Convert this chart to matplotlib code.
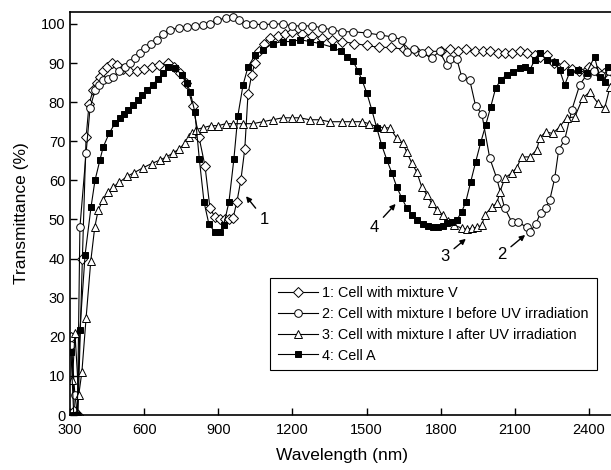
"""
plot.py

Transmittance spectra of the four cells (recreated from a figure).
"""

import matplotlib
matplotlib.use("Agg")
import matplotlib.pyplot as plt

plt.rcParams["font.family"] = ["Liberation Sans", "DejaVu Sans"]

# 1: Cell with mixture V (open diamonds)
wl_1 = [305, 318, 332, 350, 365, 377, 393, 409, 421, 433, 450, 470, 490, 514, 540,
        570, 600, 630, 660, 696, 720, 745, 770, 797, 822, 846, 866, 886, 905, 925,
        945, 960, 975, 991, 1007, 1020, 1035, 1048, 1065, 1085, 1110, 1140, 1170,
        1200, 1240, 1280, 1320, 1360, 1400, 1450, 1500, 1550, 1600, 1650, 1700,
        1750, 1800, 1836, 1870, 1900, 1940, 1970, 2000, 2030, 2060, 2090, 2120,
        2150, 2180, 2200, 2228, 2260, 2300, 2330, 2360, 2400, 2430, 2460, 2490]
t_1 = [20, 1, 0, 40, 71, 79.5, 83, 85, 86.5, 88, 89, 90, 89.5, 88.5, 88,
       88, 88.5, 89, 89.5, 90, 89, 87.5, 85, 79, 71, 63.7, 53, 50.6, 50, 50,
       50, 50.5, 54.5, 60, 68, 82, 87, 90, 93, 95, 96.5, 97, 97.5,
       98, 97.5, 97, 96.5, 96, 95.5, 95, 94.5, 94, 94, 93.5, 93,
       93, 93, 93.5, 93, 93.5, 93, 93, 93, 92.5, 92.5, 92.5, 93,
       92.5, 92, 91.5, 92, 90, 89.5, 88.5, 88, 89, 88, 87.5, 88]

# 2: Cell with mixture I before UV irradiation (open circles)
wl_2 = [305, 320, 330, 340, 365, 381, 401, 418, 433, 455, 475, 500, 522, 543, 563,
        583, 603, 628, 652, 678, 704, 740, 773, 805, 838, 865, 894, 930, 960, 985,
        1010, 1040, 1080, 1120, 1160, 1200, 1240, 1280, 1320, 1360, 1400, 1444,
        1501, 1553, 1602, 1642, 1662, 1690, 1723, 1764, 1795, 1824, 1836, 1865,
        1885, 1917, 1941, 1966, 1998, 2026, 2058, 2087, 2111, 2148, 2160, 2184,
        2204, 2224, 2241, 2261, 2277, 2301, 2330, 2362, 2390, 2420, 2450, 2480]
t_2 = [18, 5, 0, 48, 67, 78.5, 83, 84.5, 85.7, 86, 86.5, 88, 89, 90, 91.3,
       92.5, 93.9, 95, 96, 97.5, 98.5, 99, 99.3, 99.5, 99.7, 100, 101, 101.5, 101.8, 101,
       100, 100, 99.8, 100, 100, 99.5, 99.5, 99.5, 99, 98.5, 98, 98,
       97.7, 97.2, 96.7, 96, 92.8, 93.5, 92.6, 91.3, 93, 89.5, 91, 91,
       86.4, 85.7, 79, 77, 65.7, 60.6, 53, 49.4, 49.4, 48, 46.8, 48.8,
       51.7, 53, 55, 60.6, 67.8, 70.3, 78, 84.4, 87, 88, 87, 88]

# 3: Cell with mixture I after UV irradiation (open triangles)
wl_3 = [310, 320, 335, 348, 365, 384, 400, 414, 434, 455, 474, 500, 530, 560, 595,
        630, 664, 690, 717, 740, 765, 780, 793, 810, 840, 870, 900, 930, 960, 1000,
        1040, 1080, 1120, 1160, 1200, 1230, 1270, 1310, 1350, 1400, 1440, 1480,
        1510, 1541, 1570, 1594, 1622, 1646, 1662, 1683, 1703, 1723, 1743, 1763,
        1784, 1808, 1830, 1855, 1885, 1905, 1925, 1945, 1966, 1978, 2007, 2027,
        2039, 2059, 2087, 2107, 2127, 2160, 2188, 2200, 2224, 2253, 2281, 2309,
        2342, 2374, 2402, 2435, 2463, 2485]
t_3 = [9, 21, 5, 11, 24.8, 39.4, 48, 52.4, 55, 57, 58.3, 59.5, 61, 62, 63.2,
       64.3, 65.2, 66, 67, 68, 69.5, 71, 72, 73, 73.5, 74, 74, 74.5, 74.5, 74.5,
       74.5, 75, 75.5, 76, 76, 76, 75.5, 75.5, 75, 75, 75, 75,
       74.5, 73.7, 73.5, 73.4, 70.8, 69.5, 67.3, 64.4, 62.1, 58.3, 56.3, 54.2,
       52.4, 51.2, 49.5, 48.5, 47.8, 47.5, 47.8, 48, 48.5, 51.2, 53.2, 54.2,
       57, 60.6, 61.9, 63.2, 66, 66, 67.8, 70.8, 72.4, 72, 73.7, 76,
       76.2, 81, 82.6, 79.8, 78.5, 84]

# 4: Cell A (filled squares)
wl_4 = [304, 315, 328, 340, 361, 385, 401, 421, 434, 458, 482, 502, 520, 535, 555,
        576, 593, 611, 635, 657, 677, 697, 725, 752, 773, 786, 805, 823, 842, 862,
        886, 906, 922, 943, 963, 979, 1000, 1020, 1048, 1081, 1121, 1160, 1200,
        1230, 1270, 1311, 1364, 1395, 1421, 1445, 1465, 1481, 1501, 1521, 1541,
        1561, 1582, 1602, 1622, 1642, 1662, 1683, 1705, 1730, 1750, 1768, 1790,
        1810, 1824, 1845, 1865, 1885, 1901, 1921, 1941, 1962, 1982, 2002, 2022,
        2043, 2067, 2091, 2119, 2140, 2160, 2180, 2200, 2228, 2261, 2281, 2301,
        2322, 2354, 2390, 2422, 2443, 2463, 2475]
t_4 = [16, 0, 0, 21.7, 41, 53.2, 60, 65.2, 68.5, 72, 74.6, 76, 77, 78, 79.3,
       80.5, 81.8, 83, 84.5, 86, 87.5, 89, 88.7, 87, 85, 82.6, 77.5, 65.5, 54.5, 48.8,
       46.8, 46.8, 48.6, 54.5, 65.5, 76.5, 84.4, 89, 92, 93.4, 95, 95.5, 95.5,
       96, 95.5, 95, 94, 93, 91.6, 90.5, 88, 85.7, 82.3, 78, 73.4,
       69, 65.2, 61.9, 58.3, 55.5, 53, 51.2, 49.8, 48.8, 48.3, 48, 48,
       48.3, 49, 49.3, 49.9, 52, 54.5, 59.6, 64.7, 69.8, 74.2, 78.8, 83.6,
       85.7, 87, 87.7, 88.7, 89, 88.2, 90.8, 92.6, 90.8, 90.3, 88.2, 84.4,
       87.7, 88.2, 87.5, 91.6, 86.4, 85.2, 89]

labels = ["1: Cell with mixture V",
          "2: Cell with mixture I before UV irradiation",
          "3: Cell with mixture I after UV irradiation",
          "4: Cell A"]

fig = plt.figure(figsize=(6.11, 4.70), dpi=100)
# the right spine sits just outside the picture, as in the original crop
ax = fig.add_axes([0.1146, 0.117, 0.890, 0.857])

common = dict(color="black", lw=0.8, ms=5.5, mew=0.7)
ax.plot(wl_1, t_1, marker="D", mfc="white", label=labels[0], **{**common, "ms": 5.2})
ax.plot(wl_2, t_2, marker="o", mfc="white", label=labels[1], **common)
ax.plot(wl_3, t_3, marker="^", mfc="white", label=labels[2], **common)
ax.plot(wl_4, t_4, marker="s", mfc="black", label=labels[3], **{**common, "ms": 5})

ax.set_xlim(300, 2500)
ax.set_ylim(0, 103)
ax.set_xticks(range(300, 2401, 300))
ax.set_yticks(range(0, 101, 10))
ax.tick_params(direction="in", length=5, width=1, labelsize=10.5,
               top=False, right=False)
ax.tick_params(axis="x", pad=6)
for s in ax.spines.values():
    s.set_linewidth(1.2)

ax.set_xlabel("Wavelength (nm)", fontsize=12.5, labelpad=8)
ax.set_ylabel("Transmittance (%)", fontsize=12.5, labelpad=8)

# curve numbers with arrows
arrow = dict(arrowstyle="-|>", color="black", lw=1, mutation_scale=8)
ax.annotate("1", xy=(1005, 56.5), xytext=(1088, 50), fontsize=12,
            ha="center", va="center", arrowprops=arrow)
ax.annotate("4", xy=(1625, 54.5), xytext=(1530, 48), fontsize=12,
            ha="center", va="center", arrowprops=arrow)
ax.annotate("3", xy=(1910, 45.5), xytext=(1815, 40.5), fontsize=12,
            ha="center", va="center", arrowprops=arrow)
ax.annotate("2", xy=(2150, 46.5), xytext=(2045, 41), fontsize=12,
            ha="center", va="center", arrowprops=arrow)

leg = ax.legend(loc="upper left", bbox_to_anchor=(0.442, 0.409),
                bbox_transform=fig.transFigure, fontsize=10.4,
                handlelength=2.8, handletextpad=0.25, labelspacing=0.48,
                borderpad=0.55, borderaxespad=0, fancybox=False, framealpha=1)
leg.get_frame().set_edgecolor("black")
leg.get_frame().set_linewidth(0.8)

fig.savefig("out.png", dpi=100)
